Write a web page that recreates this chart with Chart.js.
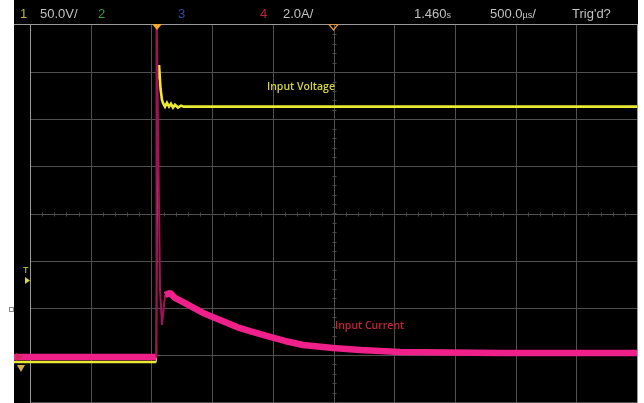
<!DOCTYPE html>
<html><head><meta charset="utf-8">
<script src="https://cdn.jsdelivr.net/npm/chart.js@4/dist/chart.umd.min.js"></script>
<style>
html,body{margin:0;padding:0;background:#fff;}
#wrap{position:relative;width:644px;height:403px;overflow:hidden;background:#fff;}
#c{position:absolute;left:0;top:0;}
.h{position:absolute;top:6px;font-family:"Liberation Sans",Arial,sans-serif;font-size:13px;line-height:16px;color:#c2c2c2;white-space:nowrap;}
.h small{font-size:9px;}
.lab{position:absolute;font-family:"Open Sans",sans-serif;font-weight:600;font-size:10.5px;line-height:11px;white-space:nowrap;}
.mk{position:absolute;font-family:"Liberation Sans",Arial,sans-serif;font-size:9px;line-height:9px;color:#d8d840;}
</style></head>
<body><div id="wrap"><canvas id="c" width="644" height="403"></canvas>
<span class="h" style="left:20px;color:#b9b54a">1</span>
<span class="h" style="left:40px">50.0V/</span>
<span class="h" style="left:98px;color:#3c9a3c">2</span>
<span class="h" style="left:178px;color:#3a48a8">3</span>
<span class="h" style="left:260px;color:#c0243e">4</span>
<span class="h" style="left:283px">2.0A/</span>
<span class="h" style="left:414px">1.460<small>s</small></span>
<span class="h" style="left:490px">500.0<small>µs</small>/</span>
<span class="h" style="left:572px">Trig'd?</span>
<span class="lab" style="left:267px;top:81px;color:#d6d63c">Input Voltage</span>
<span class="lab" style="left:335px;top:320px;color:#c4223a">Input Current</span>
<span class="mk" style="left:23px;top:266px">T</span>
</div>
<script>
// ---- data (time in ms, 0 = first graticule line) ----
const TIME_V  = [-0.132, 1.040, 1.050, 1.063, 1.075, 1.087, 1.095, 1.112, 1.128, 1.145, 1.161, 1.178, 1.194, 1.219, 1.244, 1.268, 5.0];
const VOLTAGE = [0, 0, 300, 315, 290, 278, 275, 271, 275, 271, 274, 270, 273, 270, 272, 271, 271];

const TIME_I  = [-0.132, 1.038, 1.042, 1.071, 1.087, 1.112, 1.153, 1.194, 1.277, 1.425, 1.565, 1.705, 1.812, 1.977, 2.100, 2.249, 2.496, 2.720, 3.048, 3.871, 5.0];
const CURRENT = [0, 0, 15, 2.85, 1.36, 2.63, 2.72, 2.51, 2.29, 1.87, 1.57, 1.27, 1.10, 0.85, 0.68, 0.51, 0.38, 0.30, 0.21, 0.17, 0.17];

const GRID_T   = [0, 0.5, 1.0, 1.5, 2.0, 2.5, 3.0, 3.5, 4.0, 4.5, 5.0];
const GRID_DIV = [0, 1, 2, 3, 4, 5, 6, 7, 8];
const TRIG_T = 1.046;
const DELAY_T = 2.5;

const scope = {
  id: 'scope',
  beforeDraw(chart) {
    const {ctx, scales} = chart;
    const xs = scales.x, g = scales.g;
    ctx.save();
    ctx.fillStyle = '#000';
    ctx.fillRect(14, 0, 624, 403);
    ctx.lineWidth = 1;
    const top = g.getPixelForValue(8), bot = g.getPixelForValue(0);
    const left = xs.getPixelForValue(0), right = xs.getPixelForValue(5);
    ctx.strokeStyle = '#505050';
    GRID_T.forEach((t, i) => {
      if (i === 0 || i === GRID_T.length - 1) return;
      const px = Math.round(xs.getPixelForValue(t)) + 0.5;
      ctx.beginPath(); ctx.moveTo(px, top); ctx.lineTo(px, bot); ctx.stroke();
    });
    GRID_DIV.forEach((d, i) => {
      if (i === GRID_DIV.length - 1) return;
      const py = Math.round(g.getPixelForValue(d)) + 0.5;
      ctx.beginPath(); ctx.moveTo(left, py); ctx.lineTo(right, py); ctx.stroke();
    });
    const cx = Math.round(xs.getPixelForValue(2.5)) + 0.5;
    const cy = Math.round(g.getPixelForValue(4)) + 0.5;
    ctx.strokeStyle = '#4a4a4a';
    for (let d = 0; d <= 8; d += 0.2) {
      const py = Math.round(g.getPixelForValue(d)) + 0.5;
      ctx.beginPath(); ctx.moveTo(cx - 2, py); ctx.lineTo(cx + 2, py); ctx.stroke();
    }
    for (let t = 0; t <= 5.001; t += 0.1) {
      const px = Math.round(xs.getPixelForValue(t)) + 0.5;
      ctx.beginPath(); ctx.moveTo(px, cy - 2); ctx.lineTo(px, cy + 2); ctx.stroke();
    }
    ctx.strokeStyle = '#9a9a9a';
    const ty = Math.round(top) - 0.5;
    ctx.beginPath(); ctx.moveTo(14, ty); ctx.lineTo(right + 1, ty); ctx.stroke();
    const lx = Math.round(left) + 0.5, rx = Math.round(right) + 0.5;
    ctx.beginPath(); ctx.moveTo(lx, ty); ctx.lineTo(lx, 403); ctx.stroke();
    ctx.beginPath(); ctx.moveTo(rx, ty); ctx.lineTo(rx, 403); ctx.stroke();
    ctx.restore();
  },
  afterDatasetsDraw(chart) {
    const {ctx, scales} = chart;
    const xs = scales.x, yV = scales.yV, yI = scales.yI;
    ctx.save();
    const tx = xs.getPixelForValue(TRIG_T);
    ctx.fillStyle = '#f0a428';
    ctx.beginPath(); ctx.moveTo(tx - 5, 24); ctx.lineTo(tx + 5, 24); ctx.lineTo(tx, 30); ctx.closePath(); ctx.fill();
    const dx = xs.getPixelForValue(DELAY_T);
    ctx.strokeStyle = '#e09a3a'; ctx.lineWidth = 1.2;
    ctx.beginPath(); ctx.moveTo(dx - 4.5, 24.5); ctx.lineTo(dx + 4.5, 24.5); ctx.lineTo(dx, 30); ctx.closePath(); ctx.stroke();
    ctx.fillStyle = '#d8d840';
    ctx.beginPath(); ctx.moveTo(25, 277); ctx.lineTo(30, 280.5); ctx.lineTo(25, 284); ctx.closePath(); ctx.fill();
    const gI = yI.getPixelForValue(0), gV = yV.getPixelForValue(0);
    ctx.fillStyle = '#d02a5a';
    ctx.beginPath(); ctx.moveTo(16, gI - 4); ctx.lineTo(23, gI); ctx.lineTo(16, gI + 4); ctx.closePath(); ctx.fill();
    ctx.fillStyle = '#d8b040';
    ctx.beginPath(); ctx.moveTo(17, gV + 3); ctx.lineTo(25, gV + 3); ctx.lineTo(21, gV + 10); ctx.closePath(); ctx.fill();
    ctx.strokeStyle = '#888'; ctx.lineWidth = 1;
    ctx.strokeRect(9.5, 307.5, 4, 4);
    ctx.restore();
  }
};

const steep = (c, lim) => Math.abs(c.p1.y - c.p0.y) > lim * Math.max(1, Math.abs(c.p1.x - c.p0.x));

new Chart(document.getElementById('c'), {
  type: 'line',
  data: {
    datasets: [
      {
        label: 'Input Current',
        yAxisID: 'yI',
        data: TIME_I.map((t, i) => ({x: t, y: CURRENT[i]})),
        borderColor: '#f0208a',
        borderWidth: 6.5,
        pointRadius: 0,
        tension: 0,
        clip: 0,
        borderJoinStyle: 'bevel',
        segment: {
          borderColor: c => steep(c, 8) ? '#a01456' : undefined,
          borderWidth: c => steep(c, 8) ? 2 : undefined
        }
      },
      {
        label: 'Input Voltage',
        yAxisID: 'yV',
        data: TIME_V.map((t, i) => ({x: t, y: VOLTAGE[i]})),
        borderColor: '#eaea34',
        borderWidth: 2.6,
        pointRadius: 0,
        tension: 0,
        clip: 0,
        segment: {
          borderColor: c => Math.abs(c.p1.y - c.p0.y) > 100 ? '#d8c890' : undefined,
          borderWidth: c => Math.abs(c.p1.y - c.p0.y) > 100 ? 1.2 : undefined
        }
      }
    ]
  },
  options: {
    responsive: false,
    animation: false,
    devicePixelRatio: 1,
    layout: {padding: {left: 14, right: 7, top: 25, bottom: 1}},
    plugins: {legend: {display: false}, tooltip: {enabled: false}, title: {display: false}},
    scales: {
      x: {type: 'linear', axis: 'x', position: 'bottom', min: -0.132, max: 5.0, display: false},
      yI: {type: 'linear', axis: 'y', position: 'left', min: -1.91, max: 14.09, display: false},
      yV: {type: 'linear', axis: 'y', position: 'left', min: -42.4, max: 357.6, display: false},
      g: {type: 'linear', axis: 'y', position: 'left', min: 0, max: 8, display: false}
    }
  },
  plugins: [scope]
});
</script>
</body></html>
